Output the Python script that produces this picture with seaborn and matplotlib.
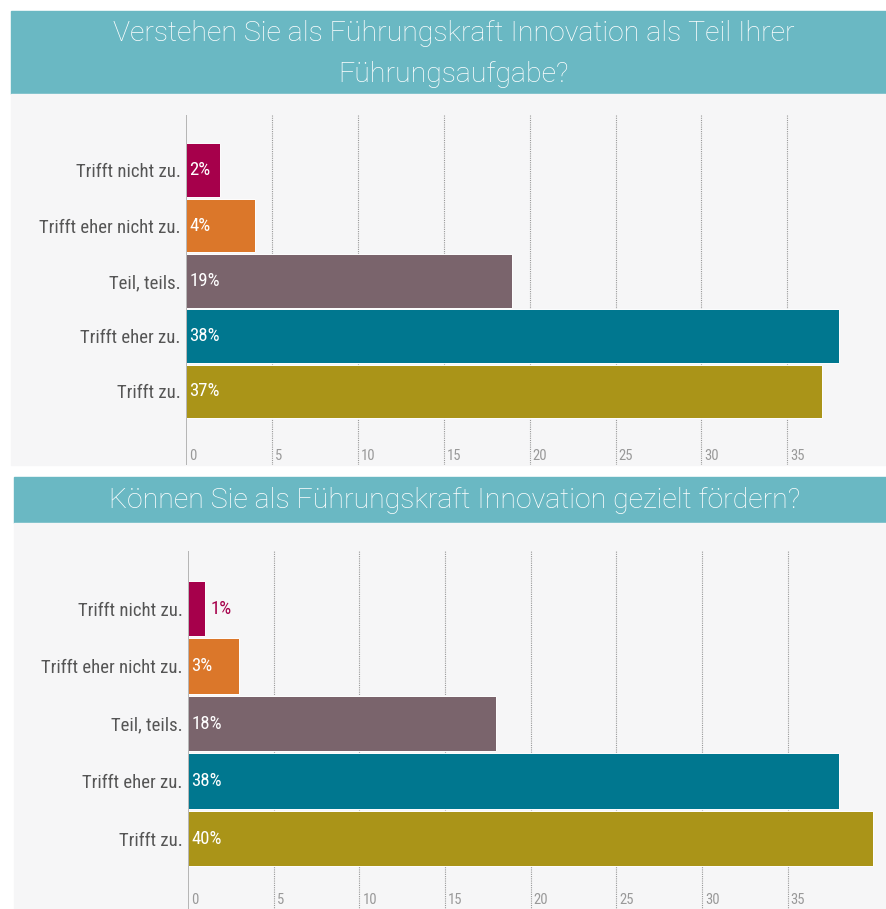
import matplotlib
matplotlib.use("Agg")
import matplotlib.pyplot as plt
import seaborn as sns
from matplotlib.patches import Rectangle
from matplotlib.transforms import ScaledTranslation

# answer categories (same for both questions)
categories = ["Trifft nicht zu.", "Trifft eher nicht zu.", "Teil, teils.", "Trifft eher zu.", "Trifft zu."]
colors = ["#a6004b", "#db772a", "#7a646c", "#00778f", "#aa9418"]

q1_title = "Verstehen Sie als Führungskraft Innovation als Teil Ihrer\nFührungsaufgabe?"
q1_values = [2, 4, 19, 38, 37]

q2_title = "Können Sie als Führungskraft Innovation gezielt fördern?"
q2_values = [1, 3, 18, 38, 40]

ticks = [0, 5, 10, 15, 20, 25, 30, 35]

W, H = 887, 909
BANNER = "#6ab8c3"
PANEL = "#f6f6f7"
LABEL_FONT = ["Liberation Sans Narrow", "Roboto Condensed", "DejaVu Sans"]
TITLE_FONT = ["Roboto", "DejaVu Sans"]

sns.set_theme(style="white")
plt.rcParams["font.family"] = LABEL_FONT

fig = plt.figure(figsize=(W / 100, H / 100), dpi=100)
fig.patch.set_facecolor("white")


def px_rect(x0, y0, x1, y1, color):
    # rectangle in pixel coordinates measured from top-left
    fig.patches.append(Rectangle((x0 / W, 1 - y1 / H), (x1 - x0) / W, (y1 - y0) / H,
                                 transform=fig.transFigure, color=color, zorder=-10))


def panel(values, title, banner, bg, axbox, title_y, tick_pad):
    px_rect(banner[0], banner[1], banner[2], banner[3], BANNER)
    px_rect(bg[0], bg[1], bg[2], bg[3], PANEL)
    fig.text((banner[0] + banner[2]) / 2 / W + 0.005, 1 - title_y / H, title, color="white",
             fontsize=20.5, fontweight="light", family=TITLE_FONT,
             ha="center", va="center", linespacing=1.7)

    x0, y0, x1, y1 = axbox
    ax = fig.add_axes([x0 / W, 1 - y1 / H, (x1 - x0) / W, (y1 - y0) / H])
    ax.set_facecolor(PANEL)
    sns.barplot(x=values, y=categories, hue=categories, palette=colors, legend=False,
                orient="h", width=0.97, saturation=1, edgecolor="#ffffff", linewidth=0.7,
                ax=ax, zorder=3)
    ax.set_xlim(0, 40.8)
    ax.set_ylim(5.33, -1.0)
    ax.set_xticks(ticks)
    ax.set_xticklabels([str(t) for t in ticks], ha="left", color="#999999", fontsize=10.5)
    ax.tick_params(axis="x", direction="in", length=0, pad=tick_pad)
    ax.tick_params(axis="y", length=0, pad=4, labelsize=13.5, labelcolor="#555555")
    # shift tick labels right of the grid lines
    for lbl in ax.get_xticklabels():
        lbl.set_transform(lbl.get_transform() + ScaledTranslation(3 / 100, 0, fig.dpi_scale_trans))
    for t in ticks[1:]:
        ax.axvline(t, color="#999999", linestyle=(0, (1, 1)), linewidth=0.8, zorder=1)
    ax.axvline(0, color="#aaaaaa", linewidth=1.2, zorder=4)
    for s in ax.spines.values():
        s.set_visible(False)
    ax.set_xlabel("")
    ax.set_ylabel("")

    for bar, v, c in zip(ax.patches, values, colors):
        yc = bar.get_y() + bar.get_height() / 2
        if v < 2:
            ax.text(v + 0.3, yc, f"{v}%", color=c, fontsize=13.5, va="center", ha="left", zorder=5)
        else:
            ax.text(0.2, yc, f"{v}%", color="white", fontsize=13.5, va="center", ha="left", zorder=5)
    return ax


panel(q1_values, q1_title, (11, 11, 887, 94), (11, 94, 887, 465), (186, 115, 887, 465), 54, -11.5)
panel(q2_values, q2_title, (14, 477, 887, 523), (14, 523, 887, 909), (188, 551, 887, 915), 500, -16)

fig.savefig("out.png", dpi=100, facecolor="white")
